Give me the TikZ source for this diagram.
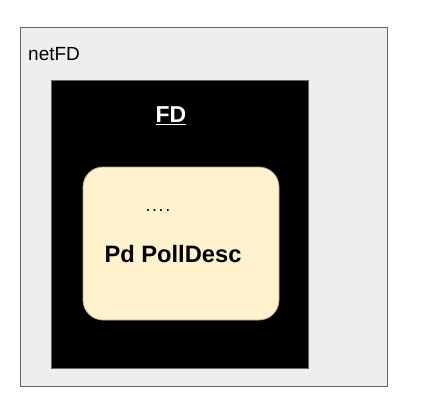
\documentclass[tikz,border=0pt]{standalone}
\usepackage{fontspec}
\setmainfont{Liberation Sans}
\definecolor{outerfill}{HTML}{EEEEEE}
\definecolor{outerdraw}{HTML}{666666}
\definecolor{yfill}{HTML}{FFF2CC}
\definecolor{ydraw}{HTML}{B5A882}
\tikzset{
  outerbox/.style={draw=outerdraw, fill=outerfill, line width=0.8pt},
  blackbox/.style={draw=outerdraw, fill=black, line width=0.8pt},
  pdbox/.style={draw=ydraw, fill=yfill, rounded corners=20pt, line width=0.8pt},
}
\begin{document}
\begin{tikzpicture}[x=1pt,y=-1pt]
\useasboundingbox (0,0) rectangle (431,420);
\fill[white] (0,0) rectangle (431,420);
\draw[outerbox] (20,27) rectangle (387,386);
\node[anchor=west, font=\fontsize{19}{22}\selectfont, inner sep=0pt] (netfd) at (28,54) {netFD};
\draw[blackbox] (51,80) rectangle (308,368);
\node[font=\bfseries\fontsize{23}{27}\selectfont, text=white, inner sep=0pt] (fd) at (171,116) {\underline{FD}};
\draw[pdbox] (83,167) rectangle (279,320);
\node[font=\fontsize{18}{20}\selectfont, inner sep=0pt] (dots) at (158,211) {\hbox{.\kern1.5pt.\kern1.5pt.\kern1.5pt.}};
\node[font=\bfseries\fontsize{23.7}{28}\selectfont, inner sep=0pt] (pd) at (173,254) {Pd PollDesc};
\end{tikzpicture}
\end{document}
